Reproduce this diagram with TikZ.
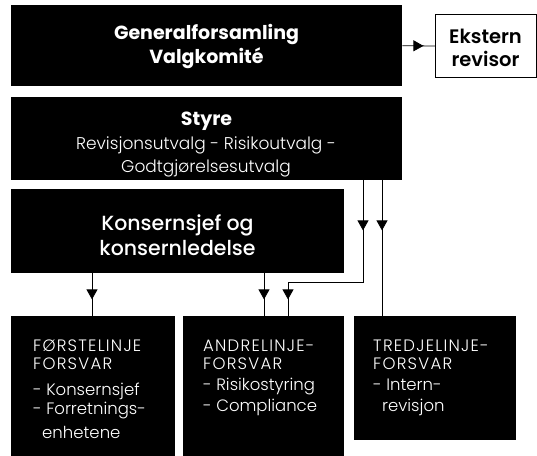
\documentclass[tikz,border=0pt]{standalone}
\usepackage{fontspec}
\setmainfont{Poppins}
\newfontfamily\pLight{Poppins Light}
\newfontfamily\pMed{Poppins Medium}
\newfontfamily\pSemi{Poppins SemiBold}
\usetikzlibrary{arrows.meta,decorations.markings}
\tikzset{
  blk/.style={fill=black, draw=none, anchor=north west, inner sep=0pt},
  conn/.style={draw=black, line width=0.8pt},
  tipat/.style={postaction={decorate}, decoration={markings,
      mark=at position #1 with {\arrow{Triangle[width=11pt,length=10pt]}}}},
  twotips/.style 2 args={postaction={decorate}, decoration={markings,
      mark=at position #1 with {\arrow{Triangle[width=11pt,length=10pt]}},
      mark=at position #2 with {\arrow{Triangle[width=11pt,length=10pt]}}}},
  wt/.style={text=white, inner sep=0pt},
  bigbold/.style={wt, anchor=base, font=\bfseries\fontsize{19}{19}\selectfont},
  midtxt/.style={wt, anchor=base, font=\pMed\fontsize{20.5}{20.5}\selectfont},
  subtxt/.style={wt, anchor=base, font=\pLight\fontsize{17}{17}\selectfont},
  head/.style={wt, anchor=base west, font=\pLight\fontsize{16.5}{16.5}\selectfont\addfontfeature{LetterSpace=7.5}},
  item/.style={wt, anchor=base west, font=\pLight\fontsize{16.5}{16.5}\selectfont},
  ektxt/.style={anchor=base, inner sep=0pt, font=\pSemi\fontsize{19.5}{19.5}\selectfont},
}
\begin{document}
\begin{tikzpicture}[x=1pt,y=-1pt]
\useasboundingbox (0,0) rectangle (537,455);
% boxes
\node[blk, minimum width=391pt, minimum height=81pt] (gf) at (11,5) {};
\node[draw=black, line width=1pt, fill=white, anchor=north west, inner sep=0pt,
      minimum width=101pt, minimum height=63pt] (ek) at (435,14) {};
\node[blk, minimum width=391pt, minimum height=83pt] (st) at (11,97) {};
\node[blk, minimum width=333pt, minimum height=84pt] (ks) at (11,189) {};
\node[blk, minimum width=164pt, minimum height=145pt] (fa) at (11,316) {};
\node[blk, minimum width=161pt, minimum height=145pt] (fb) at (183,316) {};
\node[blk, minimum width=162pt, minimum height=124pt] (fc) at (354,316) {};
% bends
\coordinate (bend1) at (363,282);
\coordinate (bend2) at (288,282);
% connectors
\draw[conn, tipat=21pt] (gf.east) -- (ek.west);
\draw[conn, tipat=50pt] (382,0 |- st.south) -- (382,0 |- fc.north);
\draw[conn, twotips={50pt}{194pt}] (363,0 |- st.south) -- (bend1) -- (bend2) -- (288,0 |- fb.north);
\draw[conn, tipat=26pt] (92,0 |- ks.south) -- (92,0 |- fa.north);
\draw[conn, tipat=26pt] (264,0 |- ks.south) -- (264,0 |- fb.north);
% texts
\node[bigbold] (t1) at (206.5,39) {Generalforsamling};
\node[bigbold] (t2) at (206.5,63) {Valgkomité};
\node[ektxt] (e1) at (485.5,43) {Ekstern};
\node[ektxt] (e2) at (485.5,66) {revisor};
\node[wt, anchor=base, font=\bfseries\fontsize{19}{19}\selectfont] (s1) at (206.5,125) {Styre};
\node[subtxt] (s2) at (206,149) {Revisjonsutvalg - Risikoutvalg -};
\node[subtxt] (s3) at (206,172) {Godtgjørelsesutvalg};
\node[midtxt] (k1) at (177.5,230) {Konsernsjef og};
\node[midtxt] (k2) at (177.5,255) {konsernledelse};
\node[head] (a1) at (33,351) {FØRSTELINJE};
\node[head] (a2) at (33,369) {FORSVAR};
\node[item] (a3) at (33,395) {- Konsernsjef};
\node[item] (a4) at (33,414) {- Forretnings-};
\node[item] (a5) at (42,438) {enhetene};
\node[head] (b1) at (203,351) {ANDRELINJE-};
\node[head] (b2) at (203,369) {FORSVAR};
\node[item] (b3) at (203,390) {- Risikostyring};
\node[item] (b4) at (203,411) {- Compliance};
\node[head] (c1) at (373,351) {TREDJELINJE-};
\node[head] (c2) at (373,369) {FORSVAR};
\node[item] (c3) at (373,390) {- Intern-};
\node[item] (c4) at (382,411) {revisjon};
\end{tikzpicture}
\end{document}
